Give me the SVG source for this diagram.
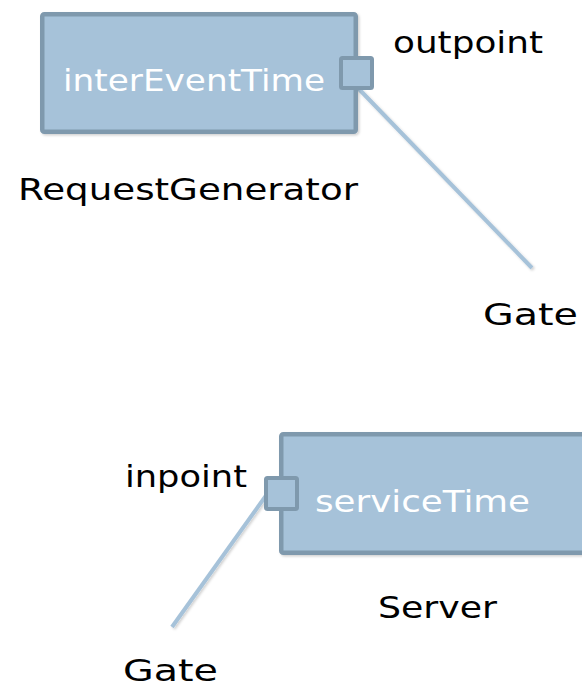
<svg xmlns="http://www.w3.org/2000/svg" width="582" height="687" viewBox="0 0 582 687">
  <defs>
    <filter id="soft" x="-10%" y="-10%" width="130%" height="130%">
      <feDropShadow dx="1.5" dy="1.5" stdDeviation="1" flood-color="#000" flood-opacity="0.18"/>
    </filter>
  </defs>
  <style>
    .block { fill: #a6c2d9; stroke: #7f99ad; stroke-width: 4.5; }
    .port { fill: #a6c2d9; stroke: #7f99ad; stroke-width: 4; }
    .wire { stroke: #a6c2d9; stroke-width: 4; fill: none; }
    .lbl { font-family: "DejaVu Sans", "Liberation Sans", sans-serif; font-size: 31px; fill: #000; }
    .inner { font-family: "DejaVu Sans", "Liberation Sans", sans-serif; font-size: 31px; fill: #fff; }
  </style>
  <rect width="582" height="687" fill="#fff"/>

  <!-- connectors between ports and gates -->
  <g id="connectors" filter="url(#soft)">
    <line class="wire" x1="356" y1="86" x2="532" y2="268"/>
    <line class="wire" x1="270" y1="490" x2="172" y2="627"/>
  </g>

  <!-- RequestGenerator block with its output port -->
  <g id="request-generator">
    <rect class="block" x="42.25" y="14.25" width="313.5" height="117.5" rx="2" filter="url(#soft)"/>
    <text class="inner" x="63" y="91" textLength="262" lengthAdjust="spacingAndGlyphs">interEventTime</text>
    <rect class="port" x="341" y="58" width="31" height="30" rx="1.5"/>
    <text class="lbl" x="18" y="200" textLength="340" lengthAdjust="spacingAndGlyphs">RequestGenerator</text>
  </g>
  <g id="outpoint-label">
    <text class="lbl" x="393" y="53" textLength="150" lengthAdjust="spacingAndGlyphs">outpoint</text>
  </g>
  <g id="gate-top">
    <text class="lbl" x="483" y="325" textLength="95" lengthAdjust="spacingAndGlyphs">Gate</text>
  </g>

  <!-- Server block with its input port -->
  <g id="server">
    <rect class="block" x="281.25" y="434.25" width="400" height="118.5" rx="2" filter="url(#soft)"/>
    <text class="inner" x="315" y="512" textLength="215" lengthAdjust="spacingAndGlyphs">serviceTime</text>
    <rect class="port" x="266" y="478" width="31" height="31" rx="1.5"/>
    <text class="lbl" x="378" y="618" textLength="119" lengthAdjust="spacingAndGlyphs">Server</text>
  </g>
  <g id="inpoint-label">
    <text class="lbl" x="125" y="487" textLength="122" lengthAdjust="spacingAndGlyphs">inpoint</text>
  </g>
  <g id="gate-bottom">
    <text class="lbl" x="123" y="681" textLength="95" lengthAdjust="spacingAndGlyphs">Gate</text>
  </g>
</svg>
